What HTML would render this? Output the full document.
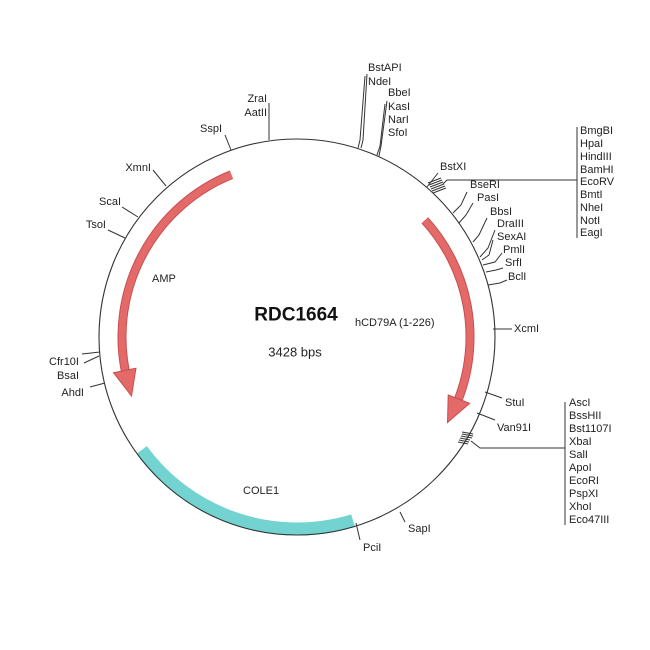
<!DOCTYPE html>
<html><head><meta charset="utf-8"><style>html,body{margin:0;padding:0;background:#fff}svg{display:block}text{font-family:"Liberation Sans",sans-serif;font-size:11px;fill:#222;dominant-baseline:central}</style></head><body>
<svg width="650" height="650" viewBox="0 0 650 650" xmlns="http://www.w3.org/2000/svg">
<rect width="650" height="650" fill="#fff"/>
<path d="M141.7,449.9 A192,192 0 0 0 353.1,520.6" fill="none" stroke="#72d3d0" stroke-width="13"/>
<circle cx="297" cy="337" r="198" fill="none" stroke="#333" stroke-width="1.1"/>
<g fill="#e46a6a" stroke="#c94f4f" stroke-width="1">
<path d="M231.4,174.7 A175,175 0 0 0 125.2,370.4" fill="none" stroke="#c94f4f" stroke-width="9"/>
<path d="M231.4,174.7 A175,175 0 0 0 125.2,370.4" fill="none" stroke="#e46a6a" stroke-width="7"/>
<polygon points="136,368.3 113.5,372.7 131.5,396"/>
<path d="M424.8,220.3 A173,173 0 0 1 458.5,399" fill="none" stroke="#c94f4f" stroke-width="9"/>
<path d="M424.8,220.3 A173,173 0 0 1 458.5,399" fill="none" stroke="#e46a6a" stroke-width="7"/>
<polygon points="448.2,395 469.7,403.3 447.5,422.5"/>
</g>
<g stroke="#333" stroke-width="1" fill="none">
<line x1="269" y1="103" x2="269" y2="140"/>
<line x1="231" y1="150" x2="225" y2="135"/>
<line x1="166" y1="186" x2="153" y2="170"/>
<line x1="138" y1="217" x2="122" y2="207"/>
<line x1="125" y1="238" x2="108" y2="230"/>
<line x1="100" y1="352" x2="82" y2="354"/>
<line x1="99" y1="356" x2="84" y2="363"/>
<line x1="105" y1="383" x2="90" y2="387"/>
<path d="M367,74 L363,140 L361,148"/>
<path d="M365,76 L360,140 L358,148"/>
<path d="M387,101 L381,146 L379,156"/>
<path d="M385,104 L380,146 L377,155"/>
<line x1="438" y1="173" x2="427" y2="187"/>
<path d="M443,184 L447,180 L577,180"/>
<line x1="577" y1="127" x2="577" y2="238"/>
<path d="M467,192 L461,205 L453,213"/>
<path d="M473,203 L466,215 L459,223"/>
<path d="M487,218 L479,235 L473,242"/>
<path d="M495,230 L488,248 L480,257"/>
<path d="M493,240 L489,255 L482,260"/>
<path d="M502,253 L495,262 L483,265"/>
<path d="M503,268 L496,270 L486,272"/>
<path d="M507,280 L500,283 L488,285"/>
<line x1="493" y1="329" x2="512" y2="329"/>
<line x1="485" y1="392" x2="502" y2="398"/>
<line x1="477" y1="413" x2="495" y2="420"/>
<path d="M471,441 L480,448 L565,448"/>
<line x1="565" y1="402" x2="565" y2="525"/>
<line x1="400" y1="512" x2="405" y2="522"/>
<line x1="356" y1="523" x2="360" y2="540"/>
</g>
<g stroke="#333" stroke-width="1">
<line x1="428" y1="183" x2="441" y2="178"/><line x1="429" y1="185" x2="442" y2="180"/><line x1="430" y1="187" x2="443" y2="182"/><line x1="431" y1="189" x2="444" y2="184"/><line x1="432" y1="191" x2="445" y2="186"/><line x1="433" y1="193" x2="446" y2="188"/>
<line x1="462" y1="432" x2="473" y2="434"/><line x1="462" y1="434" x2="473" y2="436"/><line x1="461" y1="436" x2="472" y2="438"/><line x1="460" y1="438" x2="470" y2="440"/><line x1="459" y1="440" x2="469" y2="442"/><line x1="458" y1="442" x2="468" y2="444"/>
</g>
<text x="267" y="99" text-anchor="end">ZraI</text>
<text x="267" y="113" text-anchor="end">AatII</text>
<text x="222" y="129" text-anchor="end">SspI</text>
<text x="151" y="168" text-anchor="end">XmnI</text>
<text x="121" y="202" text-anchor="end">ScaI</text>
<text x="106" y="225" text-anchor="end">TsoI</text>
<text x="79" y="362" text-anchor="end">Cfr10I</text>
<text x="79" y="376" text-anchor="end">BsaI</text>
<text x="84" y="393" text-anchor="end">AhdI</text>
<text x="368" y="68">BstAPI</text>
<text x="368" y="82">NdeI</text>
<text x="388" y="93">BbeI</text>
<text x="388" y="107">KasI</text>
<text x="388" y="120">NarI</text>
<text x="388" y="133">SfoI</text>
<text x="440" y="167">BstXI</text>
<g>
<text x="580" y="131">BmgBI</text><text x="580" y="144">HpaI</text><text x="580" y="157">HindIII</text><text x="580" y="170">BamHI</text><text x="580" y="182">EcoRV</text><text x="580" y="195">BmtI</text><text x="580" y="208">NheI</text><text x="580" y="221">NotI</text><text x="580" y="233">EagI</text>
</g>
<text x="470" y="185">BseRI</text>
<text x="477" y="198">PasI</text>
<text x="490" y="212">BbsI</text>
<text x="497" y="224">DraIII</text>
<text x="497" y="237">SexAI</text>
<text x="503" y="250">PmlI</text>
<text x="505" y="263">SrfI</text>
<text x="508" y="277">BclI</text>
<text x="514" y="329">XcmI</text>
<text x="505" y="403">StuI</text>
<text x="497" y="428">Van91I</text>
<g>
<text x="569" y="403">AscI</text><text x="569" y="416">BssHII</text><text x="569" y="429">Bst1107I</text><text x="569" y="442">XbaI</text><text x="569" y="455">SalI</text><text x="569" y="468">ApoI</text><text x="569" y="481">EcoRI</text><text x="569" y="494">PspXI</text><text x="569" y="507">XhoI</text><text x="569" y="520">Eco47III</text>
</g>
<text x="408" y="529">SapI</text>
<text x="363" y="548">PciI</text>
<text x="152" y="279">AMP</text>
<text x="355" y="323">hCD79A (1-226)</text>
<text x="243" y="491">COLE1</text>
<text x="296" y="315" text-anchor="middle" style="font-size:19px;font-weight:bold;fill:#111">RDC1664</text>
<text x="295" y="352" text-anchor="middle" style="font-size:13px">3428 bps</text>
</svg>
</body></html>
